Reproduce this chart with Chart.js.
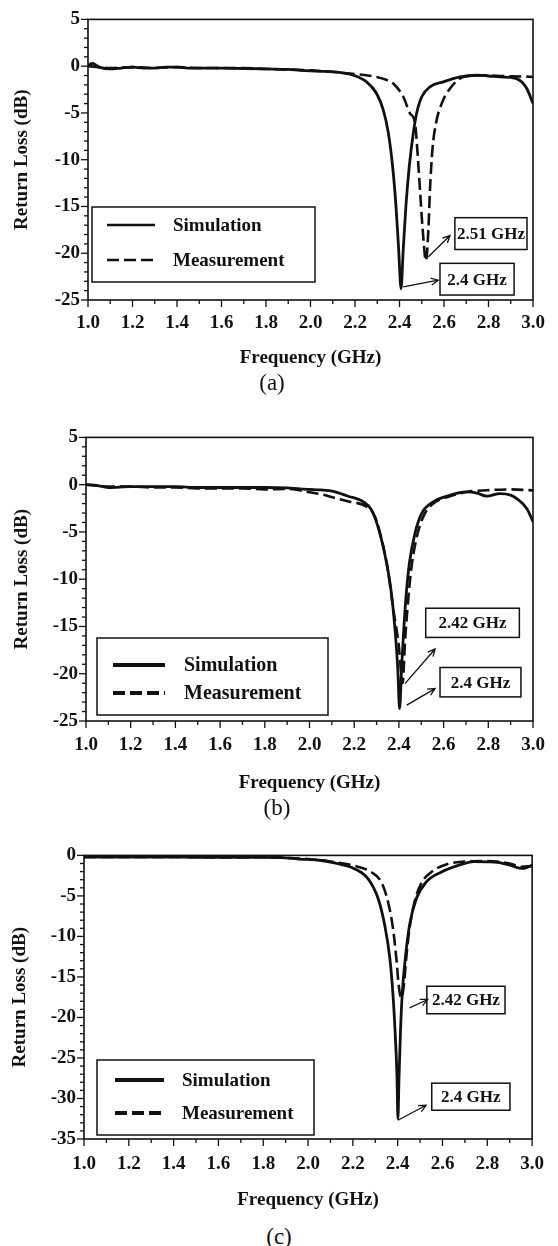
<!DOCTYPE html>
<html>
<head>
<meta charset="utf-8">
<script src="https://cdn.jsdelivr.net/npm/chart.js@4.4.0/dist/chart.umd.min.js"></script>
<style>
  html, body { margin: 0; padding: 0; background: #fff; }
  body { width: 558px; height: 1246px; position: relative; overflow: hidden; }
  .panel { position: absolute; left: 0; width: 558px; }
  .tag { position: absolute; font-family: "Liberation Serif", "Times New Roman", serif; font-size: 23px; color: #111; transform: translate(-50%, -50%); white-space: nowrap; }
</style>
</head>
<body>
<div class="panel" id="pa"></div>
<div class="panel" id="pb"></div>
<div class="panel" id="pc"></div>
<div class="tag" style="left:272px; top:383px;">(a)</div>
<div class="tag" style="left:277px; top:808px;">(b)</div>
<div class="tag" style="left:279px; top:1237px;">(c)</div>
<script>
// ---- data (frequency in GHz, return loss in dB) ----

// (a)
const simFreqA = [1.0, 1.02, 1.05, 1.1, 1.15, 1.2, 1.25, 1.3, 1.35, 1.4, 1.45, 1.5, 1.6, 1.7, 1.8, 1.9, 1.953, 2.0, 2.05, 2.101, 2.15, 2.193, 2.252, 2.297, 2.327, 2.35, 2.369, 2.384, 2.396, 2.407, 2.417, 2.429, 2.444, 2.462, 2.477, 2.5, 2.537, 2.597, 2.672, 2.747, 2.8, 2.852, 2.9, 2.927, 2.95, 2.972, 3.0];
const simA = [0.1, 0.3, -0.1, -0.3, -0.2, -0.1, -0.2, -0.2, -0.1, -0.1, -0.2, -0.2, -0.2, -0.25, -0.3, -0.35, -0.44, -0.5, -0.55, -0.62, -0.75, -0.97, -1.68, -2.92, -4.68, -7.16, -10.7, -14.9, -19.5, -23.8, -19.5, -14.9, -10.7, -7.16, -5.04, -3.27, -2.21, -1.68, -1.15, -0.97, -1.05, -1.15, -1.2, -1.33, -1.7, -2.39, -3.98];
const measFreqA = [1.0, 1.05, 1.1, 1.2, 1.3, 1.4, 1.5, 1.6, 1.7, 1.8, 1.9, 2.0, 2.1, 2.178, 2.24, 2.297, 2.34, 2.372, 2.417, 2.447, 2.47, 2.48, 2.492, 2.504, 2.519, 2.53, 2.537, 2.548, 2.564, 2.59, 2.627, 2.687, 2.775, 2.85, 2.95, 3.0];
const measA = [0.0, -0.1, -0.2, -0.1, -0.2, -0.1, -0.2, -0.2, -0.2, -0.3, -0.35, -0.45, -0.6, -0.8, -0.95, -1.15, -1.45, -1.86, -3.27, -5.04, -6.1, -8.9, -13.2, -17.4, -20.8, -17.4, -13.2, -8.9, -6.1, -3.98, -2.39, -1.15, -0.97, -1.05, -1.1, -1.15];

// (b)
const simFreqB = [1.0, 1.05, 1.1, 1.2, 1.3, 1.4, 1.5, 1.6, 1.7, 1.8, 1.9, 1.957, 2.0, 2.05, 2.107, 2.17, 2.241, 2.278, 2.315, 2.345, 2.368, 2.385, 2.395, 2.403, 2.412, 2.42, 2.432, 2.447, 2.472, 2.502, 2.554, 2.629, 2.703, 2.75, 2.793, 2.852, 2.9, 2.927, 2.972, 3.0];
const simB = [0.0, -0.1, -0.3, -0.2, -0.2, -0.2, -0.3, -0.3, -0.3, -0.3, -0.35, -0.45, -0.5, -0.55, -0.7, -1.2, -1.82, -2.69, -5.14, -8.29, -11.8, -16.0, -19.5, -23.7, -19.5, -16.0, -11.8, -8.29, -5.14, -3.04, -1.82, -1.12, -0.77, -0.9, -1.22, -0.94, -1.1, -1.47, -2.52, -3.92];
const measFreqB = [1.0, 1.05, 1.1, 1.2, 1.3, 1.4, 1.5, 1.6, 1.7, 1.8, 1.9, 1.957, 2.0, 2.05, 2.107, 2.18, 2.256, 2.293, 2.323, 2.353, 2.375, 2.398, 2.417, 2.427, 2.438, 2.453, 2.477, 2.509, 2.554, 2.629, 2.703, 2.793, 2.9, 3.0];
const measB = [0.0, -0.1, -0.2, -0.2, -0.3, -0.3, -0.4, -0.4, -0.4, -0.5, -0.45, -0.6, -0.8, -1.0, -1.36, -1.8, -2.34, -3.39, -5.84, -9.34, -13.2, -16.7, -21.0, -16.7, -13.2, -9.34, -5.84, -3.39, -2.0, -1.22, -0.77, -0.59, -0.5, -0.6];

// (c)
const simFreqC = [1.0, 1.1, 1.2, 1.3, 1.4, 1.5, 1.6, 1.7, 1.8, 1.9, 1.958, 2.0, 2.05, 2.106, 2.16, 2.209, 2.268, 2.313, 2.342, 2.365, 2.379, 2.389, 2.397, 2.401, 2.406, 2.412, 2.42, 2.434, 2.453, 2.483, 2.527, 2.593, 2.667, 2.741, 2.8, 2.845, 2.9, 2.95, 2.975, 3.0];
const simC = [-0.2, -0.2, -0.2, -0.2, -0.2, -0.25, -0.25, -0.25, -0.25, -0.3, -0.45, -0.5, -0.6, -0.86, -1.2, -1.67, -2.9, -5.35, -8.6, -12.7, -17.2, -22.1, -27.4, -32.5, -27.4, -22.1, -17.2, -12.7, -8.6, -5.35, -3.3, -2.08, -1.27, -0.77, -0.8, -0.86, -1.2, -1.6, -1.5, -1.2];
const measFreqC = [1.0, 1.1, 1.2, 1.3, 1.4, 1.5, 1.6, 1.7, 1.8, 1.9, 2.0, 2.1, 2.209, 2.283, 2.327, 2.357, 2.379, 2.394, 2.404, 2.416, 2.428, 2.438, 2.453, 2.475, 2.504, 2.549, 2.623, 2.696, 2.8, 2.9, 2.95, 3.0];
const measC = [-0.2, -0.2, -0.2, -0.2, -0.2, -0.2, -0.25, -0.25, -0.2, -0.3, -0.45, -0.75, -1.3, -2.08, -3.3, -5.75, -9.0, -12.7, -15.9, -17.6, -15.9, -12.7, -9.0, -5.75, -3.5, -2.08, -1.06, -0.77, -0.7, -1.0, -1.4, -1.3];

const seriesNames = ['Simulation', 'Measurement'];
const xTickLabels = ['1.0', '1.2', '1.4', '1.6', '1.8', '2.0', '2.2', '2.4', '2.6', '2.8', '3.0'];

// resonance call-outs: box [f1, dB1, f2, dB2], arrow from -> to (data units)
const notesA = [
    { text: '2.51 GHz', box: [2.649, -16.2, 2.973, -19.6], from: [2.529, -20.41], to: [2.627, -18.11] },
    { text: '2.4 GHz', box: [2.582, -21.08, 2.915, -24.47], from: [2.417, -23.59], to: [2.574, -22.88] }
];
const notesB = [
    { text: '2.42 GHz', box: [2.52, -13.07, 2.939, -16.16], from: [2.427, -21.05], to: [2.562, -17.38] },
    { text: '2.4 GHz', box: [2.584, -19.34, 2.946, -22.45], from: [2.435, -23.32], to: [2.562, -21.57] }
];
const notesC = [
    { text: '2.42 GHz', box: [2.530, -16.15, 2.879, -19.54], from: [2.453, -18.81], to: [2.534, -17.78] },
    { text: '2.4 GHz', box: [2.552, -28.11, 2.901, -31.45], from: [2.401, -32.68], to: [2.527, -30.84] }
];

const INK = '#111';
const SERIF = '"Liberation Serif", "Times New Roman", serif';

function toPoints(xs, ys) {
    return xs.map((x, i) => ({ x: x, y: ys[i] }));
}

// frame, outward ticks, in-plot legend and call-outs
const decorations = {
    id: 'decorations',
    afterDraw(chart, args, opts) {
        const p = opts.panel;
        const ctx = chart.ctx;
        const ca = chart.chartArea;
        const xs = chart.scales.x;
        const ys = chart.scales.y;
        ctx.save();
        ctx.strokeStyle = INK;
        ctx.fillStyle = INK;
        ctx.setLineDash([]);

        // plot frame
        ctx.lineWidth = 1.6;
        ctx.strokeRect(ca.left, ca.top, ca.right - ca.left, ca.bottom - ca.top);

        // x ticks every 0.1, longer every 0.2
        ctx.lineWidth = 1.3;
        for (let k = 0; k <= 20; k++) {
            const px = xs.getPixelForValue(1 + k * 0.1);
            const len = k % 2 === 0 ? 7 : 4;
            ctx.beginPath();
            ctx.moveTo(px, ca.bottom);
            ctx.lineTo(px, ca.bottom + len);
            ctx.stroke();
        }
        // y ticks every 1 dB, longer every 5
        for (let v = p.yMin; v <= p.yMax; v++) {
            const py = ys.getPixelForValue(v);
            const len = v % 5 === 0 ? 7 : 4;
            ctx.beginPath();
            ctx.moveTo(ca.left, py);
            ctx.lineTo(ca.left - len, py);
            ctx.stroke();
        }

        // legend box
        const lg = p.legend;
        const bx = ca.left + lg.dx;
        const by = ca.bottom - lg.gap - lg.h;
        ctx.lineWidth = 1.5;
        ctx.strokeRect(bx, by, lg.w, lg.h);
        ctx.font = 'bold ' + lg.font + 'px ' + SERIF;
        ctx.textBaseline = 'middle';
        ctx.textAlign = 'left';
        chart.data.datasets.forEach((ds, i) => {
            const ry = by + lg.rows[i];
            ctx.lineWidth = lg.lineWidth;
            ctx.setLineDash(ds.borderDash || []);
            ctx.beginPath();
            ctx.moveTo(bx + lg.lineX, ry);
            ctx.lineTo(bx + lg.lineX + lg.lineLen, ry);
            ctx.stroke();
            ctx.setLineDash([]);
            ctx.fillText(ds.label, bx + lg.textX, ry + 1);
        });

        // call-outs
        ctx.font = 'bold 17px ' + SERIF;
        ctx.textAlign = 'center';
        p.notes.forEach(n => {
            const x1 = xs.getPixelForValue(n.box[0]);
            const y1 = ys.getPixelForValue(n.box[1]);
            const x2 = xs.getPixelForValue(n.box[2]);
            const y2 = ys.getPixelForValue(n.box[3]);
            ctx.fillStyle = '#fff';
            ctx.fillRect(x1, y1, x2 - x1, y2 - y1);
            ctx.fillStyle = INK;
            ctx.lineWidth = 1.5;
            ctx.strokeRect(x1, y1, x2 - x1, y2 - y1);
            ctx.fillText(n.text, (x1 + x2) / 2, (y1 + y2) / 2 + 1);

            const ax = xs.getPixelForValue(n.from[0]);
            const ay = ys.getPixelForValue(n.from[1]);
            const bx2 = xs.getPixelForValue(n.to[0]);
            const by2 = ys.getPixelForValue(n.to[1]);
            const ang = Math.atan2(by2 - ay, bx2 - ax);
            ctx.lineWidth = 1.3;
            ctx.beginPath();
            ctx.moveTo(ax, ay);
            ctx.lineTo(bx2, by2);
            ctx.moveTo(bx2 - 8 * Math.cos(ang - 0.45), by2 - 8 * Math.sin(ang - 0.45));
            ctx.lineTo(bx2, by2);
            ctx.lineTo(bx2 - 8 * Math.cos(ang + 0.45), by2 - 8 * Math.sin(ang + 0.45));
            ctx.stroke();
        });
        ctx.restore();
    }
};

function makePanel(p) {
    const top = p.plot.top - 17;
    const height = p.xTitleY + 13 - top;
    const wrap = document.getElementById(p.id);
    wrap.style.top = top + 'px';
    wrap.style.height = height + 'px';
    const canvas = document.createElement('canvas');
    canvas.width = 558;
    canvas.height = height;
    wrap.appendChild(canvas);

    const tickFont = { family: SERIF, size: 19, weight: 'bold' };
    const titleFont = { family: SERIF, size: 19, weight: 'bold' };

    new Chart(canvas, {
        type: 'line',
        data: {
            datasets: [
                {
                    label: seriesNames[0],
                    data: toPoints(p.simFreq, p.sim),
                    borderColor: INK,
                    borderWidth: 2.8,
                    pointRadius: 0,
                    cubicInterpolationMode: 'monotone',
                    fill: false
                },
                {
                    label: seriesNames[1],
                    data: toPoints(p.measFreq, p.meas),
                    borderColor: INK,
                    borderWidth: 2.6,
                    borderDash: p.dash,
                    pointRadius: 0,
                    cubicInterpolationMode: 'monotone',
                    fill: false
                }
            ]
        },
        options: {
            responsive: false,
            animation: false,
            events: [],
            layout: { padding: { top: 17, right: 558 - p.plot.right, left: 0, bottom: 0 } },
            plugins: {
                legend: { display: false },
                tooltip: { enabled: false },
                decorations: { panel: p }
            },
            scales: {
                x: {
                    type: 'linear',
                    min: 1,
                    max: 3,
                    grid: { display: false, drawTicks: false },
                    border: { display: false },
                    ticks: {
                        stepSize: 0.2,
                        autoSkip: false,
                        maxRotation: 0,
                        padding: p.xTickPad,
                        color: INK,
                        font: tickFont,
                        callback: (v) => xTickLabels[Math.round((v - 1) / 0.2)]
                    },
                    title: {
                        display: true,
                        text: 'Frequency (GHz)',
                        color: INK,
                        font: titleFont,
                        padding: { top: 0, bottom: 2 }
                    },
                    afterFit: (s) => { s.height = height - (p.plot.bottom - top); }
                },
                y: {
                    type: 'linear',
                    min: p.yMin,
                    max: p.yMax,
                    grid: { display: false, drawTicks: false },
                    border: { display: false },
                    ticks: {
                        stepSize: 5,
                        padding: 8,
                        color: INK,
                        font: tickFont
                    },
                    title: {
                        display: true,
                        text: 'Return Loss (dB)',
                        color: INK,
                        font: titleFont,
                        padding: { top: p.yTitlePad, bottom: 0 }
                    },
                    afterFit: (s) => { s.width = p.plot.left; }
                }
            }
        },
        plugins: [decorations]
    });
}

makePanel({
    id: 'pa', plot: { left: 88, right: 533, top: 17, bottom: 300 },
    xTitleY: 358, xTickPad: 12, yTitlePad: 11, yMin: -25, yMax: 5,
    simFreq: simFreqA, sim: simA, measFreq: measFreqA, meas: measA,
    dash: [12, 5], notes: notesA,
    legend: { dx: 4, gap: 18, w: 223, h: 75, rows: [18, 53], lineX: 15, lineLen: 48, textX: 81, lineWidth: 2.6, font: 19 }
});
makePanel({
    id: 'pb', plot: { left: 86, right: 533, top: 435, bottom: 721 },
    xTitleY: 783, xTickPad: 13, yTitlePad: 11, yMin: -25, yMax: 5,
    simFreq: simFreqB, sim: simB, measFreq: measFreqB, meas: measB,
    dash: [12, 5], notes: notesB,
    legend: { dx: 11, gap: 6, w: 231, h: 77, rows: [27, 55], lineX: 16, lineLen: 52, textX: 87, lineWidth: 4, font: 20 }
});
makePanel({
    id: 'pc', plot: { left: 84, right: 535, top: 853, bottom: 1139 },
    xTitleY: 1200, xTickPad: 14, yTitlePad: 9, yMin: -35, yMax: 0,
    simFreq: simFreqC, sim: simC, measFreq: measFreqC, meas: measC,
    dash: [12, 5], notes: notesC,
    legend: { dx: 13, gap: 4, w: 217, h: 75, rows: [20, 53], lineX: 18, lineLen: 49, textX: 85, lineWidth: 4, font: 19 }
});
</script>
</body>
</html>
